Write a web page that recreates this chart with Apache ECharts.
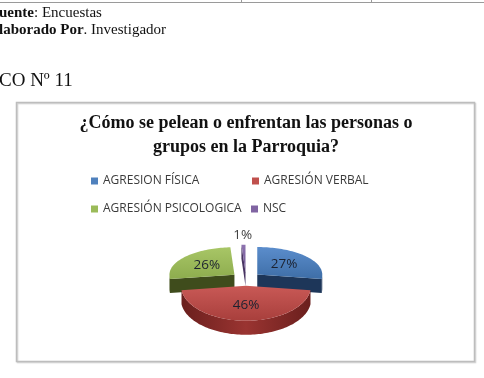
<!DOCTYPE html>
<html><head><meta charset="utf-8">
<script src="https://cdn.jsdelivr.net/npm/echarts@6/dist/echarts.min.js"></script>
<style>html,body{margin:0;padding:0;background:#fff}#c{width:484px;height:378px}</style>
</head><body><div id="c"></div>
<script>
// ---- data ----
const categories = ['AGRESION FÍSICA', 'AGRESIÓN VERBAL', 'AGRESIÓN PSICOLOGICA', 'NSC'];
const values = [27, 46, 26, 1];
const chartTitle = '¿Cómo se pelean o enfrentan las personas o\ngrupos en la Parroquia?';

// ---- styles / layout ----
const legendColors = ['#4f81bd', '#c0504d', '#9bbb59', '#8064a2'];
const topColors = [['#5b8dcc', '#3e6ea7'], ['#c95956', '#a83f3c'], ['#a8c666', '#8dac4e'], ['#8e73b0', '#6d5490']];
const sideColors = [['#2d4f7e', '#1d3659'], ['#9a3431', '#6a1f1d'], ['#5a6c2d', '#3f4c1c'], ['#5e4680', '#483462']];
const legendPos = [[91, 175], [252, 175], [91, 203], [251, 203]];
const CX = 246, CY = 279, RX = 65, RYB = 27.5, RYF = 35, DEPTH = 14, EX = 15, EXY = 0.45;

const total = values.reduce((a, b) => a + b, 0);

function grad(c) {
  return { type: 'linear', x: 0, y: 0, x2: 0, y2: 1, colorStops: [{ offset: 0, color: c[0] }, { offset: 1, color: c[1] }] };
}
function gradH(c) {
  return { type: 'linear', x: 0, y: 0, x2: 1, y2: 0, colorStops: [{ offset: 0, color: c[1] }, { offset: 0.5, color: c[0] }, { offset: 1, color: c[1] }] };
}

function makeRender(i) {
  return function (params, api) {
    let start = 0;
    for (let k = 0; k < i; k++) start += values[k];
    const v = api.value(0);
    const a0 = start / total * 2 * Math.PI;
    const a1 = (start + v) / total * 2 * Math.PI;
    const mid = (a0 + a1) / 2;
    const cx = CX + EX * Math.sin(mid);
    const cy = CY - EX * Math.cos(mid) * EXY;
    const pt = (a, d, f) => {
      const c = Math.cos(a), r = f || 1;
      const ry = c > 0 ? RYB : RYF;
      return [cx + RX * r * Math.sin(a), cy - ry * r * c + (d || 0)];
    };
    const children = [];
    const steps = Math.max(2, Math.ceil((a1 - a0) / 0.03));
    if (-Math.sin(a0) > 0) {
      const p = pt(a0);
      children.push({ type: 'polygon', shape: { points: [[cx, cy], p, [p[0], p[1] + DEPTH], [cx, cy + DEPTH]] }, style: { fill: sideColors[i][1] } });
    }
    if (Math.sin(a1) > 0) {
      const p = pt(a1);
      children.push({ type: 'polygon', shape: { points: [[cx, cy], p, [p[0], p[1] + DEPTH], [cx, cy + DEPTH]] }, style: { fill: sideColors[i][1] } });
    }
    const s = Math.max(a0, Math.PI / 2), e = Math.min(a1, 3 * Math.PI / 2);
    if (e > s) {
      const n = Math.max(2, Math.ceil((e - s) / 0.03));
      const up = [], dn = [];
      for (let j = 0; j <= n; j++) {
        const a = s + (e - s) * j / n;
        up.push(pt(a));
        dn.unshift(pt(a, DEPTH));
      }
      children.push({ type: 'polygon', shape: { points: up.concat(dn) }, style: { fill: gradH(sideColors[i]) } });
    }
    const face = [[cx, cy]];
    for (let j = 0; j <= steps; j++) face.push(pt(a0 + (a1 - a0) * j / steps));
    children.push({ type: 'polygon', shape: { points: face }, style: { fill: grad(topColors[i]) } });
    const outside = v / total < 0.05;
    const lp = pt(mid, 0, outside ? 1.4 : 0.55);
    children.push({
      type: 'text', z2: 10,
      style: { text: Math.round(v / total * 100) + '%', x: lp[0], y: lp[1] + (outside ? 1 : 0), align: 'center', verticalAlign: 'middle',
        fill: outside ? '#404040' : '#1c2230', font: '13.5px "Open Sans"' }
    });
    return { type: 'group', children: children };
  };
}

const zOrder = [2, 3, 2, 1];
const series = categories.map((name, i) => ({
  type: 'custom', name: name, coordinateSystem: 'none', z: zOrder[i],
  itemStyle: { color: legendColors[i] },
  renderItem: makeRender(i),
  data: [[values[i]]],
  silent: true
}));

const legends = categories.map((name, i) => ({
  data: [name], left: legendPos[i][0], top: legendPos[i][1], padding: 0,
  icon: 'rect', itemWidth: 7, itemHeight: 7, selectedMode: false,
  textStyle: { fontFamily: 'Open Sans', fontSize: 12, color: '#3a3a3a' }
}));

const serif = '"Liberation Serif", "Times New Roman", serif';
const chart = echarts.init(document.getElementById('c'), null, { renderer: 'canvas' });
chart.setOption({
  animation: false,
  backgroundColor: '#fff',
  legend: legends,
  graphic: [
    { type: 'line', shape: { x1: 0, y1: 2.5, x2: 484, y2: 2.5 }, style: { stroke: '#9a9a9a', lineWidth: 1 } },
    { type: 'line', shape: { x1: 241.5, y1: 0, x2: 241.5, y2: 3 }, style: { stroke: '#9a9a9a', lineWidth: 1 } },
    { type: 'line', shape: { x1: 371.5, y1: 0, x2: 371.5, y2: 3 }, style: { stroke: '#9a9a9a', lineWidth: 1 } },
    { type: 'text', style: { x: -1, y: 13, verticalAlign: 'middle', rich: { b: { font: 'bold 15px ' + serif, fill: '#111' }, r: { font: '15px ' + serif, fill: '#111' } }, text: '{b|uente}{r|: Encuestas}' } },
    { type: 'text', style: { x: -1, y: 30.5, verticalAlign: 'middle', rich: { b: { font: 'bold 15px ' + serif, fill: '#111' }, r: { font: '15px ' + serif, fill: '#111' } }, text: '{b|laborado Por}{r|. Investigador}' } },
    { type: 'text', style: { x: -1, y: 81, verticalAlign: 'middle', text: 'CO Nº 11', font: '19px ' + serif, fill: '#111' } },
    { type: 'rect', shape: { x: 16.5, y: 102.5, width: 458, height: 259 }, style: { fill: 'none', stroke: '#bdbdbd', lineWidth: 1.5, shadowColor: 'rgba(0,0,0,0.18)', shadowOffsetX: 1, shadowOffsetY: 1, shadowBlur: 1 } },
    { type: 'text', style: { x: 246, y: 111, align: 'center', verticalAlign: 'top', text: chartTitle, font: 'bold 18px ' + serif, lineHeight: 24, fill: '#111' } },
    { type: 'text', style: { x: 15, y: 384, verticalAlign: 'middle', text: 'Fuente: Encuestas', font: '15px ' + serif, fill: '#111' } }
  ],
  series: series
});
</script>
</body></html>
